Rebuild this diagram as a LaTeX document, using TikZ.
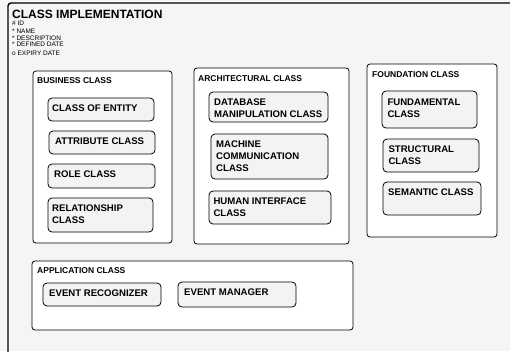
\documentclass[tikz,border=0pt]{standalone}
\usepackage{fontspec}
\setmainfont{Liberation Sans}
\usepackage{tikz}
\definecolor{bggray}{HTML}{F5F5F5}
\definecolor{boxgray}{HTML}{F3F3F3}

\begin{document}
\begin{tikzpicture}[x=1pt,y=-1pt,
  group/.style={draw=black,fill=white,rounded corners=3pt,line width=0.8pt},
  cls/.style={draw=black,fill=boxgray,rounded corners=4pt,line width=0.8pt},
  grouplabel/.style={anchor=base west,inner sep=0pt,font=\bfseries\fontsize{8.5}{10}\selectfont},
  clslabel/.style={anchor=base west,inner sep=0pt,align=left,font=\bfseries\fontsize{9.6}{11.8}\selectfont},
  attr/.style={anchor=base west,inner sep=0pt,font=\fontsize{6.5}{7}\selectfont}]
			\fill[bggray] (0,0) rectangle (510,351);
			\useasboundingbox (0,0) rectangle (510,351);
			% outer frame
			\draw[line width=1.4pt,rounded corners=3pt] (8,360) -- (8,3) -- (520,3);
			\node[anchor=base west,inner sep=0pt,font=\bfseries\fontsize{12}{14}\selectfont] (title) at (12,18.5) {CLASS IMPLEMENTATION};
			\node[attr] (attrid) at (12,25) {\# ID};
			\node[attr] (attrname) at (12,33.5) {* NAME};
			\node[attr] (attrdesc) at (12,40) {* DESCRIPTION};
			\node[attr] (attrdef) at (12,46.3) {* DEFINED DATE};
			\node[attr] (attrexp) at (12,55) {o EXPIRY DATE};
			% business (text placed by its last baseline)
			\draw[group] (33,71) rectangle (172,243);
			\node[grouplabel] (business) at (37,83) {BUSINESS CLASS};
			\draw[cls] (48,98) rectangle (154,121);
			\node[clslabel] (entity) at (52,111) {CLASS OF ENTITY};
			\draw[cls] (49,131) rectangle (155,154);
			\node[clslabel] (attribute) at (55,144.3) {ATTRIBUTE CLASS};
			\draw[cls] (48,164) rectangle (155,188);
			\node[clslabel] (role) at (54,177.3) {ROLE CLASS};
			\draw[cls] (48,198) rectangle (153,232);
			\node[clslabel] (relationship) at (52,223.5) {RELATIONSHIP\\CLASS};
			% architectural
			\draw[group] (194,68) rectangle (349,244);
			\node[grouplabel] (architectural) at (198,81) {ARCHITECTURAL CLASS};
			\draw[cls] (209,92) rectangle (328,122);
			\node[clslabel] (database) at (214,117.5) {DATABASE\\MANIPULATION CLASS};
			\draw[cls] (211,134) rectangle (328,179);
			\node[clslabel] (machine) at (216,171.5) {MACHINE\\COMMUNICATION\\CLASS};
			\draw[cls] (209,191) rectangle (331,224);
			\node[clslabel] (human) at (213.3,216.5) {HUMAN INTERFACE\\CLASS};
			% foundation
			\draw[group] (367,64) rectangle (497,237);
			\node[grouplabel] (foundation) at (372,77) {FOUNDATION CLASS};
			\draw[cls] (382,91) rectangle (477,128);
			\node[clslabel] (fundamental) at (387.3,117) {FUNDAMENTAL\\CLASS};
			\draw[cls] (383,139) rectangle (479,172);
			\node[clslabel] (structural) at (388.3,164) {STRUCTURAL\\CLASS};
			\draw[cls] (383,182) rectangle (481,215);
			\node[clslabel] (semantic) at (388,195.7) {SEMANTIC CLASS};
			% application
			\draw[group] (32,261) rectangle (353,330);
			\node[grouplabel] (application) at (37,273) {APPLICATION CLASS};
			\draw[cls] (43,283) rectangle (161,306);
			\node[clslabel] (recognizer) at (49,296.7) {EVENT RECOGNIZER};
			\draw[cls] (178,282) rectangle (296,307);
			\node[clslabel] (manager) at (184,295) {EVENT MANAGER};
		\end{tikzpicture}
\end{document}
